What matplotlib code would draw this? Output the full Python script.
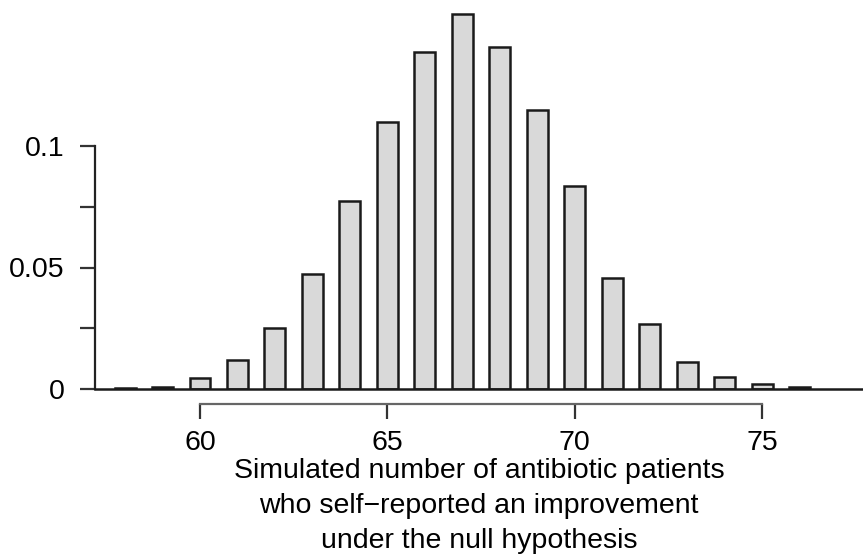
import matplotlib
matplotlib.use("Agg")
import matplotlib.pyplot as plt

plt.rcParams['font.family'] = ['Liberation Sans', 'DejaVu Sans']

counts = [58, 59, 60, 61, 62, 63, 64, 65, 66, 67, 68, 69, 70, 71, 72, 73, 74, 75, 76]
probs = [0.0004, 0.0008, 0.0045, 0.012, 0.025, 0.0473, 0.0775, 0.110, 0.1387, 0.1543,
         0.1407, 0.1148, 0.0835, 0.0457, 0.0267, 0.0111, 0.0051, 0.0021, 0.0007]
xticks = [60, 65, 70, 75]
yticks = [0, 0.025, 0.05, 0.075, 0.1]
ytick_labels = ["0", "", "0.05", "", "0.1"]
xlabel = "Simulated number of antibiotic patients\nwho self\u2212reported an improvement\nunder the null hypothesis"

W, H = 863, 558
fig = plt.figure(figsize=(W / 100, H / 100), dpi=100)
left_px, right_px, base_px = 95, 863, 389
ax = fig.add_axes([left_px / W, (H - base_px) / H, (right_px - left_px) / W, base_px / H])

ax.bar(counts, probs, width=0.56, color="#d9d9d9", edgecolor="#1a1a1a", linewidth=1.8)
ax.axhline(0, color="#1a1a1a", linewidth=1.8, clip_on=False, zorder=3)

ax.set_xlim(60 - (200 - left_px) / 37.47, 60 + (right_px - 200) / 37.47)
ax.set_ylim(0, base_px / 2430)

for s in ["top", "right"]:
    ax.spines[s].set_visible(False)
ax.spines["left"].set_bounds(0, 0.1)
ax.spines["left"].set_linewidth(1.6)
ax.spines["left"].set_color("#222222")
ax.spines["bottom"].set_position(("outward", 10.8))
ax.spines["bottom"].set_bounds(60, 75)
ax.spines["bottom"].set_linewidth(1.6)
ax.spines["bottom"].set_color("#666666")

ax.set_xticks(xticks)
ax.set_xticklabels([str(t) for t in xticks])
ax.set_yticks(yticks)
ax.set_yticklabels(ytick_labels)
ax.tick_params(axis="x", direction="out", length=11, width=1.6, color="#333333",
               pad=8, labelsize=20.5, labelcolor="#000000")
ax.tick_params(axis="y", direction="out", length=11, width=1.6, color="#333333",
               pad=11, labelsize=20.5, labelcolor="#000000")

ax.set_xlabel(xlabel, fontsize=20.5, color="#000000", linespacing=1.45, labelpad=1)

fig.savefig("out.png", dpi=100)
